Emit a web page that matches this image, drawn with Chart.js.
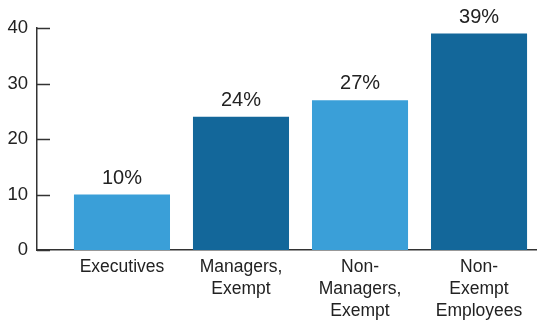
<!DOCTYPE html>
<html>
<head>
<meta charset="utf-8">
<script src="https://cdn.jsdelivr.net/npm/chart.js@4/dist/chart.umd.min.js"></script>
<style>
  html, body { margin: 0; padding: 0; background: #fff; }
  #wrap { width: 537px; height: 323px; }
</style>
</head>
<body>
<div id="wrap"><canvas id="c" width="537" height="323"></canvas></div>
<script>
// Share of respondents by employee group
const categories = [
  ['Executives'],
  ['Managers,', 'Exempt'],
  ['Non-', 'Managers,', 'Exempt'],
  ['Non-', 'Exempt', 'Employees']
];
const values = [10, 24, 27, 39];
const barColors = ['#3a9fd8', '#13679a', '#3a9fd8', '#13679a'];
const yTicks = [0, 10, 20, 30, 40];

const FONT = '"Liberation Sans", Arial, Helvetica, sans-serif';
const TEXT = '#222222';
const AXIS = '#333333';

// Short inward tick marks on the value axis
const inwardTicks = {
  id: 'inwardTicks',
  afterDraw(chart) {
    const y = chart.scales.y;
    const ctx = chart.ctx;
    ctx.save();
    ctx.strokeStyle = AXIS;
    ctx.lineWidth = 1.5;
    y.ticks.forEach(t => {
      const py = Math.round(y.getPixelForValue(t.value)) + 0.5;
      ctx.beginPath();
      ctx.moveTo(y.right, py);
      ctx.lineTo(y.right + 13, py);
      ctx.stroke();
    });
    ctx.restore();
  }
};

// Percentage labels above each bar
const valueLabels = {
  id: 'valueLabels',
  afterDatasetsDraw(chart) {
    const ctx = chart.ctx;
    const meta = chart.getDatasetMeta(0);
    ctx.save();
    ctx.fillStyle = TEXT;
    ctx.font = '20px ' + FONT;
    ctx.textAlign = 'center';
    ctx.textBaseline = 'alphabetic';
    meta.data.forEach((bar, i) => {
      ctx.fillText(values[i] + '%', bar.x, bar.y - 11);
    });
    ctx.restore();
  }
};

new Chart(document.getElementById('c'), {
  type: 'bar',
  data: {
    datasets: [{
      data: values.map((v, i) => ({ x: i, y: v })),
      backgroundColor: barColors,
      borderWidth: 0,
      categoryPercentage: 1,
      barPercentage: 0.807
    }]
  },
  options: {
    responsive: false,
    animation: false,
    layout: { padding: { top: 28, right: 0, left: 0, bottom: 0 } },
    plugins: { legend: { display: false }, tooltip: { enabled: false } },
    scales: {
      x: {
        type: 'linear',
        offset: false,
        min: -0.714,
        max: 3.487,
        afterBuildTicks: s => { s.ticks = categories.map((_, i) => ({ value: i })); },
        afterFit: s => { s.height = 73; },
        grid: { display: false, drawTicks: false },
        border: { display: true, color: AXIS, width: 1.5 },
        ticks: {
          autoSkip: false,
          maxRotation: 0,
          padding: 6,
          color: TEXT,
          font: { family: FONT, size: 17.5, lineHeight: 1.27 },
          callback: v => categories[v]
        }
      },
      y: {
        min: 0,
        max: 40,
        afterBuildTicks: s => { s.ticks = yTicks.map(v => ({ value: v })); },
        afterFit: s => { s.width = 37; },
        grid: { display: false, drawTicks: false },
        border: { display: true, color: AXIS, width: 1.5 },
        ticks: {
          padding: 9,
          color: TEXT,
          font: { family: FONT, size: 18.5 }
        }
      }
    }
  },
  plugins: [inwardTicks, valueLabels]
});
</script>
</body>
</html>
